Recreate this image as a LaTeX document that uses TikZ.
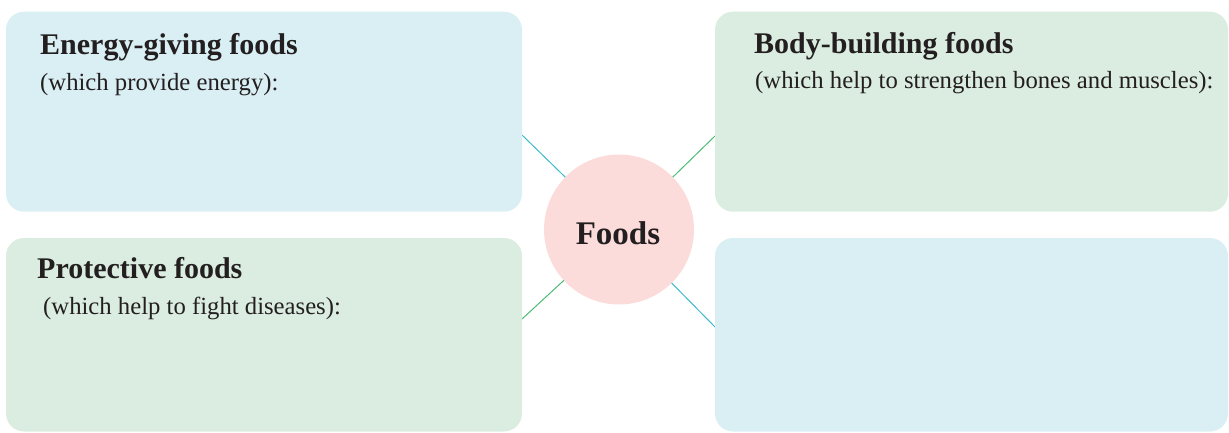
\documentclass[tikz,border=0pt]{standalone}
\usepackage{fontspec}
\setmainfont{Liberation Serif}
\definecolor{bluefill}{HTML}{DAEFF4}
\definecolor{greenfill}{HTML}{DBEDE0}
\definecolor{pinkfill}{HTML}{FBDCDA}
\definecolor{blueline}{HTML}{3DBAD0}
\definecolor{greenline}{HTML}{4CBB74}
\definecolor{ink}{HTML}{231F20}
\tikzset{
  panel/.style={rectangle, rounded corners=18pt, draw=none, inner sep=0pt, outer sep=0pt, anchor=north west},
  bluepanel/.style={panel, fill=bluefill},
  greenpanel/.style={panel, fill=greenfill},
  hub/.style={circle, fill=pinkfill, minimum size=150pt, inner sep=0pt, outer sep=0pt},
  title/.style={anchor=base west, inner sep=0pt, text=ink, font=\fontsize{30}{36}\selectfont\bfseries},
  subtitle/.style={anchor=base west, inner sep=0pt, text=ink, font=\fontsize{24.7}{30}\selectfont},
  blink/.style={draw=blueline, line width=1pt},
  glink/.style={draw=greenline, line width=1pt},
}
\begin{document}
\begin{tikzpicture}[x=1pt,y=-1pt]
\useasboundingbox (0,0) rectangle (1229,432);
% hub
\node[hub] (foods) at (619,229.5) {};
% connector ends on box edges
\coordinate (eend) at (522,135);
\coordinate (bend) at (715,136);
\coordinate (pend) at (522,319);
\coordinate (rend) at (715,327);
\draw[blink] (foods) -- (eend);
\draw[glink] (foods) -- (bend);
\draw[glink] (foods) -- (pend);
\draw[blink] (foods) -- (rend);
% panels
\node[bluepanel, minimum width=516pt, minimum height=200pt] (e) at (6,11.7) {};
\node[greenpanel, minimum width=513pt, minimum height=200pt] (b) at (715,11.7) {};
\node[greenpanel, minimum width=516pt, minimum height=193.5pt] (p) at (6,238) {};
\node[bluepanel, minimum width=513pt, minimum height=193.5pt] (r) at (715,238) {};
% texts
\node[title] (et) at (40,54) {Energy-giving foods};
\node[subtitle] (es) at (40,90) {(which provide energy):};
\node[title] (bt) at (754,53) {Body-building foods};
\node[subtitle] (bs) at (755,88) {(which help to strengthen bones and muscles):};
\node[title] (pt) at (37,278) {Protective foods};
\node[subtitle] (ps) at (43,314.5) {(which help to fight diseases):};
\node[anchor=base, inner sep=0pt, text=ink, font=\fontsize{33}{40}\selectfont\bfseries] (ft) at (618,244) {Foods};
\end{tikzpicture}
\end{document}
